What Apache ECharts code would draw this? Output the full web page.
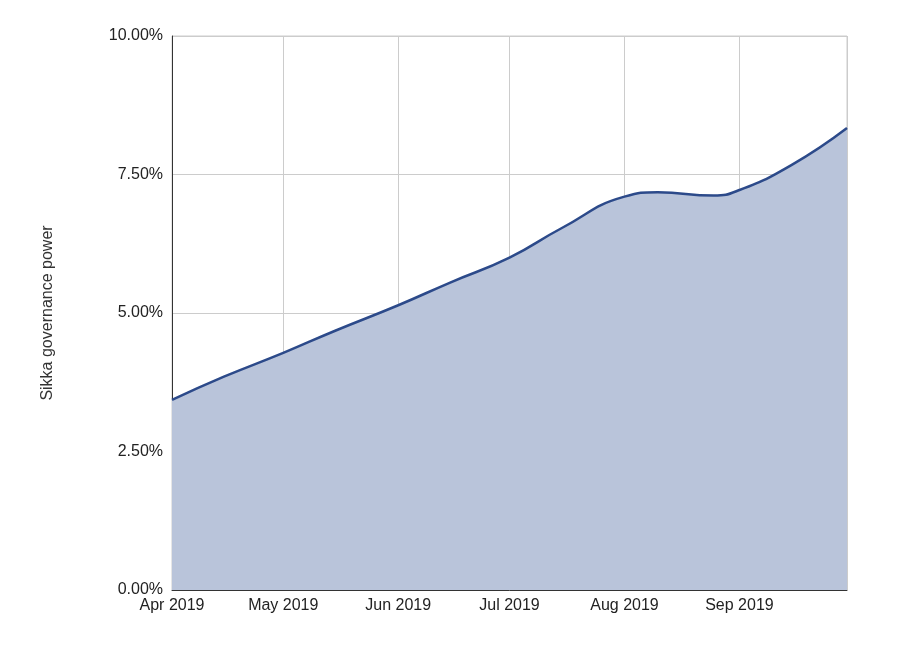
<!DOCTYPE html>
<html><head><meta charset="utf-8">
<script src="https://cdn.jsdelivr.net/npm/echarts@6/dist/echarts.min.js"></script>
<style>html,body{margin:0;background:#fff}#c{width:924px;height:658px}</style>
</head><body><div id="c"></div>
<script>
var dates = ['2019-04-01','2019-04-15','2019-05-01','2019-05-15','2019-06-01','2019-06-15','2019-07-01','2019-07-15','2019-08-01','2019-08-10','2019-08-25','2019-09-01','2019-09-15','2019-09-30'];
var power = [3.43, 3.85, 4.28, 4.68, 5.14, 5.55, 6.0, 6.53, 7.1, 7.18, 7.12, 7.22, 7.67, 8.34];

var chart = echarts.init(document.getElementById('c'));
chart.setOption({
    animation: false,
    grid: {left: 172, right: 77, top: 36, bottom: 68, show: true, borderColor: '#ccc', borderWidth: 1},
    xAxis: {
        type: 'time',
        min: +new Date('2019-04-01'),
        max: +new Date('2019-09-30'),
        minInterval: 28 * 86400000,
        maxInterval: 31 * 86400000,
        axisLine: {lineStyle: {color: '#333'}},
        axisTick: {show: false},
        splitLine: {show: true, lineStyle: {color: '#ccc'}},
        axisLabel: {
            color: '#222', fontSize: 16, fontFamily: 'Liberation Sans', margin: 8,
            formatter: function (v) {
                var d = new Date(v);
                return ['Jan','Feb','Mar','Apr','May','Jun','Jul','Aug','Sep','Oct','Nov','Dec'][d.getMonth()] + ' ' + d.getFullYear();
            }
        }
    },
    yAxis: {
        type: 'value', min: 0, max: 10, interval: 2.5,
        name: 'Sikka governance power', nameLocation: 'middle', nameGap: 116,
        nameTextStyle: {color: '#333', fontSize: 16, fontFamily: 'Liberation Sans'},
        axisLine: {show: true, lineStyle: {color: '#333'}},
        axisTick: {show: false},
        splitLine: {lineStyle: {color: '#ccc'}},
        axisLabel: {color: '#222', fontSize: 16, fontFamily: 'Liberation Sans', margin: 9, formatter: function (v) { return v.toFixed(2) + '%'; }}
    },
    series: [{
        type: 'line', smooth: true, symbol: 'none',
        data: dates.map(function (d, i) { return [d, power[i]]; }),
        lineStyle: {color: '#2c4a8a', width: 2.5},
        areaStyle: {color: '#b9c4da', opacity: 1}
    }]
});
</script></body></html>
